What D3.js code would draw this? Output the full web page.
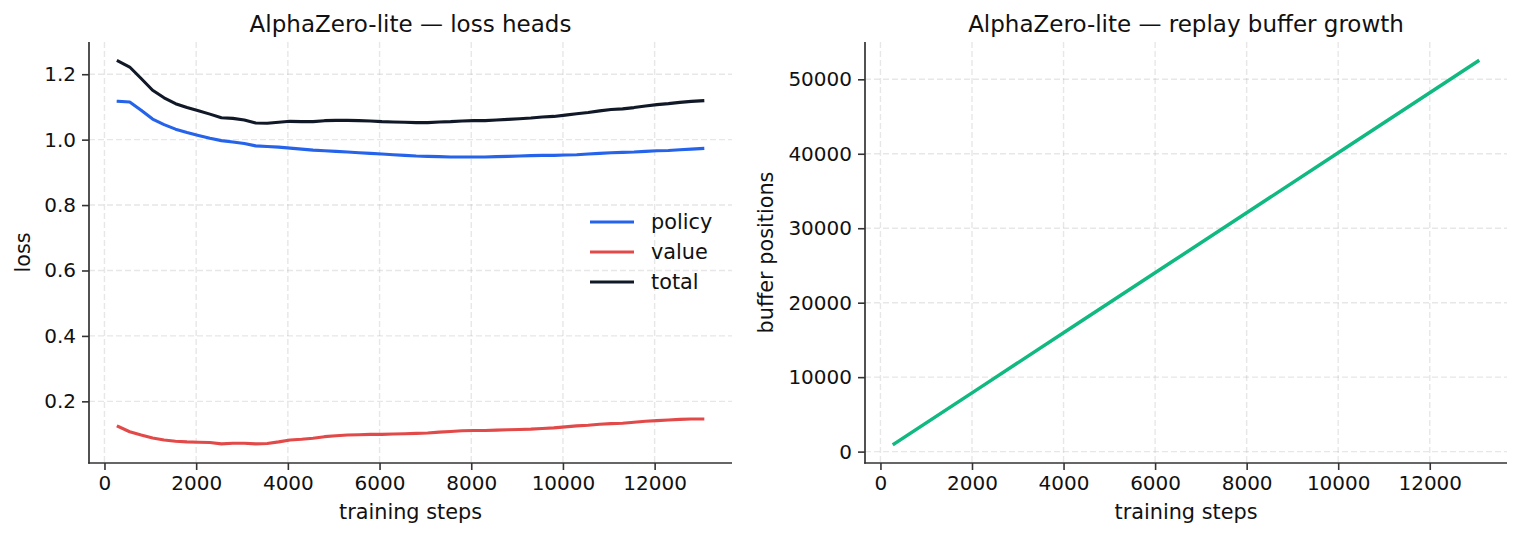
<!DOCTYPE html>
<html>
<head>
<meta charset="utf-8">
<script src="https://cdn.jsdelivr.net/npm/d3@7"></script>
<style>
  body { margin: 0; background: #fff; }
  text { font-family: 'DejaVu Sans', sans-serif; fill: #111; }
</style>
</head>
<body>
<div id="chart"></div>
<script>
// training steps at which the losses were logged
const lossSteps = [300, 550, 800, 1050, 1300, 1550, 1800, 2050, 2300, 2550, 2800, 3050, 3300, 3550, 3800, 4050, 4300, 4550, 4800, 5050, 5300, 5550, 5800, 6050, 6300, 6550, 6800, 7050, 7300, 7550, 7800, 8050, 8300, 8550, 8800, 9050, 9300, 9550, 9800, 10050, 10300, 10550, 10800, 11050, 11300, 11550, 11800, 12050, 12300, 12550, 12800, 13050]
const policyLoss = [1.117, 1.115, 1.090, 1.063, 1.046, 1.032, 1.022, 1.013, 1.004, 0.997, 0.993, 0.988, 0.981, 0.979, 0.977, 0.974, 0.971, 0.968, 0.966, 0.964, 0.962, 0.960, 0.958, 0.956, 0.954, 0.952, 0.950, 0.949, 0.948, 0.947, 0.947, 0.947, 0.947, 0.948, 0.949, 0.950, 0.951, 0.952, 0.952, 0.953, 0.954, 0.956, 0.958, 0.960, 0.961, 0.962, 0.964, 0.966, 0.967, 0.969, 0.971, 0.973]
const valueLoss = [0.123, 0.107, 0.097, 0.088, 0.082, 0.078, 0.076, 0.075, 0.074, 0.070, 0.072, 0.072, 0.070, 0.071, 0.076, 0.082, 0.084, 0.087, 0.092, 0.095, 0.097, 0.098, 0.099, 0.099, 0.100, 0.101, 0.102, 0.103, 0.106, 0.108, 0.110, 0.111, 0.111, 0.112, 0.113, 0.114, 0.115, 0.117, 0.119, 0.122, 0.125, 0.127, 0.130, 0.132, 0.133, 0.136, 0.139, 0.141, 0.143, 0.145, 0.146, 0.146]
const totalLoss = [1.240, 1.222, 1.187, 1.151, 1.128, 1.110, 1.098, 1.088, 1.078, 1.067, 1.065, 1.060, 1.051, 1.050, 1.053, 1.056, 1.055, 1.055, 1.058, 1.059, 1.059, 1.058, 1.057, 1.055, 1.054, 1.053, 1.052, 1.052, 1.054, 1.055, 1.057, 1.058, 1.058, 1.060, 1.062, 1.064, 1.066, 1.069, 1.071, 1.075, 1.079, 1.083, 1.088, 1.092, 1.094, 1.098, 1.103, 1.107, 1.110, 1.114, 1.117, 1.119]

const bufferSteps = [300, 2300, 4300, 6300, 8300, 10300, 12300, 13050]
const bufferSize = [1040, 9100, 17160, 25220, 33280, 41340, 49400, 52440]

const seriesNames = ['policy', 'value', 'total']
const seriesColors = ['#2563eb', '#e24a4a', '#111827']

const stepTicks = [0, 2000, 4000, 6000, 8000, 10000, 12000]
const lossTicks = [0.2, 0.4, 0.6, 0.8, 1.0, 1.2]
const bufferTicks = [0, 10000, 20000, 30000, 40000, 50000]

const W = 1520, H = 538
const plotTop = 42, plotBottom = 463
const panels = [{ left: 89, right: 732 }, { left: 865, right: 1507 }]

var svg = d3.select('#chart').append('svg')
  .attr('width', W)
  .attr('height', H)
  .style('background-color', 'white')

// matplotlib style 5% padding
function padded(lo, hi) {
  let p = (hi - lo) * 0.05
  return [lo - p, hi + p]
}

function drawFrame(p, x, y, xt, yt, yfmt, title, ylabel, ylabelX) {
  let g = svg.append('g')
  // grid
  g.selectAll('.gx').data(xt).enter().append('line')
    .attr('x1', d => x(d)).attr('x2', d => x(d))
    .attr('y1', plotTop).attr('y2', plotBottom)
    .style('stroke', '#b0b0b0').style('stroke-opacity', 0.3)
    .style('stroke-width', 1.4).style('stroke-dasharray', '6 3')
  g.selectAll('.gy').data(yt).enter().append('line')
    .attr('x1', p.left).attr('x2', p.right)
    .attr('y1', d => y(d)).attr('y2', d => y(d))
    .style('stroke', '#b0b0b0').style('stroke-opacity', 0.3)
    .style('stroke-width', 1.4).style('stroke-dasharray', '6 3')

  let xAxis = d3.axisBottom(x).tickValues(xt).tickSize(7).tickPadding(6).tickFormat(d3.format('d'))
  let yAxis = d3.axisLeft(y).tickValues(yt).tickSize(7).tickPadding(6).tickFormat(yfmt)

  let gx = svg.append('g').attr('transform', `translate(0,${plotBottom})`).call(xAxis)
  let gy = svg.append('g').attr('transform', `translate(${p.left},0)`).call(yAxis)
  for (let a of [gx, gy]) {
    a.select('.domain').remove()
    a.selectAll('line').style('stroke', '#333').style('stroke-width', 1.6)
    a.selectAll('text').style('font-size', '20px').style('fill', '#111')
      .style('font-family', "'DejaVu Sans', sans-serif")
  }
  // spines, left and bottom only
  svg.append('line').attr('x1', p.left).attr('x2', p.left).attr('y1', plotTop).attr('y2', plotBottom + 0.8)
    .style('stroke', '#333').style('stroke-width', 1.7)
  svg.append('line').attr('x1', p.left - 0.8).attr('x2', p.right).attr('y1', plotBottom).attr('y2', plotBottom)
    .style('stroke', '#333').style('stroke-width', 1.7)

  let cx = (p.left + p.right) / 2
  svg.append('text').attr('x', cx).attr('y', 32).attr('text-anchor', 'middle')
    .style('font-size', '23px').text(title)
  svg.append('text').attr('x', cx).attr('y', 519).attr('text-anchor', 'middle')
    .style('font-size', '20.8px').text('training steps')
  svg.append('text').attr('transform', `translate(${ylabelX},${(plotTop + plotBottom) / 2}) rotate(-90)`)
    .attr('text-anchor', 'middle').style('font-size', '20.8px').text(ylabel)
}

// ---- left: loss heads
let p0 = panels[0]
let allLoss = policyLoss.concat(valueLoss, totalLoss)
let x0 = d3.scaleLinear().domain(padded(d3.min(lossSteps), d3.max(lossSteps))).range([p0.left, p0.right])
let y0 = d3.scaleLinear().domain(padded(d3.min(allLoss), d3.max(allLoss))).range([plotBottom, plotTop])
drawFrame(p0, x0, y0, stepTicks, lossTicks, d3.format('.1f'), 'AlphaZero-lite \u2014 loss heads', 'loss', 29.5)

let lossSeries = [policyLoss, valueLoss, totalLoss]
let line0 = d3.line().x((d, i) => x0(lossSteps[i])).y(d => y0(d))
svg.selectAll('.loss-line')
  .data(lossSeries)
  .enter()
  .append('path')
  .attr('d', d => line0(d))
  .attr('fill', 'none')
  .attr('stroke', (d, i) => seriesColors[i])
  .attr('stroke-width', 3.1)
  .attr('stroke-linejoin', 'round')
  .attr('stroke-linecap', 'square')

// legend (no frame)
let lg = svg.append('g')
lg.selectAll('.lg-line').data(seriesNames).enter().append('line')
  .attr('x1', 590).attr('x2', 634)
  .attr('y1', (d, i) => 222 + i * 30).attr('y2', (d, i) => 222 + i * 30)
  .attr('stroke', (d, i) => seriesColors[i]).attr('stroke-width', 3.1)
lg.selectAll('.lg-text').data(seriesNames).enter().append('text')
  .attr('x', 651).attr('y', (d, i) => 222 + i * 30)
  .attr('dy', '0.35em')
  .style('font-size', '20.8px')
  .text(d => d)

// ---- right: replay buffer
let p1 = panels[1]
let x1 = d3.scaleLinear().domain(padded(d3.min(bufferSteps), d3.max(bufferSteps))).range([p1.left, p1.right])
let y1 = d3.scaleLinear().domain(padded(d3.min(bufferSize), d3.max(bufferSize))).range([plotBottom, plotTop])
drawFrame(p1, x1, y1, stepTicks, bufferTicks, d3.format('d'), 'AlphaZero-lite \u2014 replay buffer growth', 'buffer positions', 773)

let line1 = d3.line().x((d, i) => x1(bufferSteps[i])).y(d => y1(d))
svg.append('path')
  .datum(bufferSize)
  .attr('d', line1)
  .attr('fill', 'none')
  .attr('stroke', '#10b981')
  .attr('stroke-width', 3.5)
  .attr('stroke-linecap', 'square')
</script>
</body>
</html>
